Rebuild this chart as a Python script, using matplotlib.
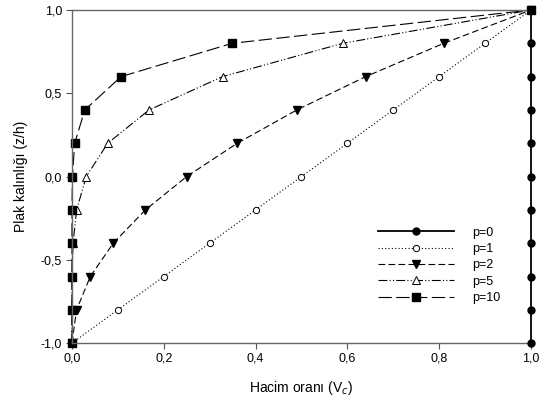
import matplotlib.pyplot as plt

plt.rcParams["font.family"] = ["Liberation Sans", "DejaVu Sans"]

# Plate thickness positions and volume fraction for each power-law index
z_h = [-1.0, -0.8, -0.6, -0.4, -0.2, 0.0, 0.2, 0.4, 0.6, 0.8, 1.0]
vc_p0 = [1.0, 1.0, 1.0, 1.0, 1.0, 1.0, 1.0, 1.0, 1.0, 1.0, 1.0]
vc_p1 = [0.0, 0.1, 0.2, 0.3, 0.4, 0.5, 0.6, 0.7, 0.8, 0.9, 1.0]
vc_p2 = [0.0, 0.01, 0.04, 0.09, 0.16, 0.25, 0.36, 0.49, 0.64, 0.81, 1.0]
vc_p5 = [0.0, 0.00001, 0.0003, 0.0024, 0.0102, 0.031, 0.078, 0.168, 0.328, 0.59, 1.0]
vc_p10 = [0.0, 0.0, 0.0, 0.0, 0.0001, 0.001, 0.006, 0.028, 0.107, 0.349, 1.0]

x_ticks = [0.0, 0.2, 0.4, 0.6, 0.8, 1.0]
y_ticks = [-1.0, -0.5, 0.0, 0.5, 1.0]

fig = plt.figure(figsize=(5.41, 4.08), dpi=100)
ax = fig.add_axes([0.133, 0.159, 0.8485, 0.8165])

lw = 0.8
ax.plot(vc_p0, z_h, color="black", linestyle="-", linewidth=1.3,
        marker="o", markersize=5, markerfacecolor="black", label="p=0", clip_on=False, zorder=5)
ax.plot(vc_p1, z_h, color="black", linestyle=(0, (1, 2)), linewidth=lw,
        marker="o", markersize=4.5, markerfacecolor="white", markeredgewidth=0.7,
        label="p=1", clip_on=False)
ax.plot(vc_p2, z_h, color="black", linestyle=(0, (6, 3)), linewidth=lw,
        marker="v", markersize=5.5, markerfacecolor="black", label="p=2", clip_on=False)
ax.plot(vc_p5, z_h, color="black", linestyle=(0, (8, 2, 1, 2, 1, 2)), linewidth=lw,
        marker="^", markersize=5.5, markerfacecolor="white", markeredgewidth=0.7,
        label="p=5", clip_on=False)
ax.plot(vc_p10, z_h, color="black", linestyle=(0, (12, 4)), linewidth=lw,
        marker="s", markersize=5.3, markerfacecolor="black", label="p=10", clip_on=False)

ax.set_xlim(0, 1)
ax.set_ylim(-1, 1)
ax.set_xticks(x_ticks)
ax.set_yticks(y_ticks)
ax.set_xticklabels([f"{v:.1f}".replace(".", ",") for v in x_ticks])
ax.set_yticklabels([f"{v:.1f}".replace(".", ",") for v in y_ticks])
ax.tick_params(direction="out", length=4, width=0.8, color="#555555",
               labelsize=9, pad=3)

for side in ["left", "bottom", "top"]:
    ax.spines[side].set_color("#666666")
    ax.spines[side].set_linewidth(1.0)
ax.spines["right"].set_visible(False)

ax.set_xlabel("Hacim oranı (V$_c$)", fontsize=10, labelpad=10)
ax.set_ylabel("Plak kalınlığı (z/h)", fontsize=10, labelpad=9)

ax.legend(loc="upper left", bbox_to_anchor=(0.667, 0.35), frameon=False,
          numpoints=1, handlelength=6.1, fontsize=9, labelspacing=0.35,
          handletextpad=1.45, borderaxespad=0, borderpad=0)

fig.savefig("out.png", dpi=100)
